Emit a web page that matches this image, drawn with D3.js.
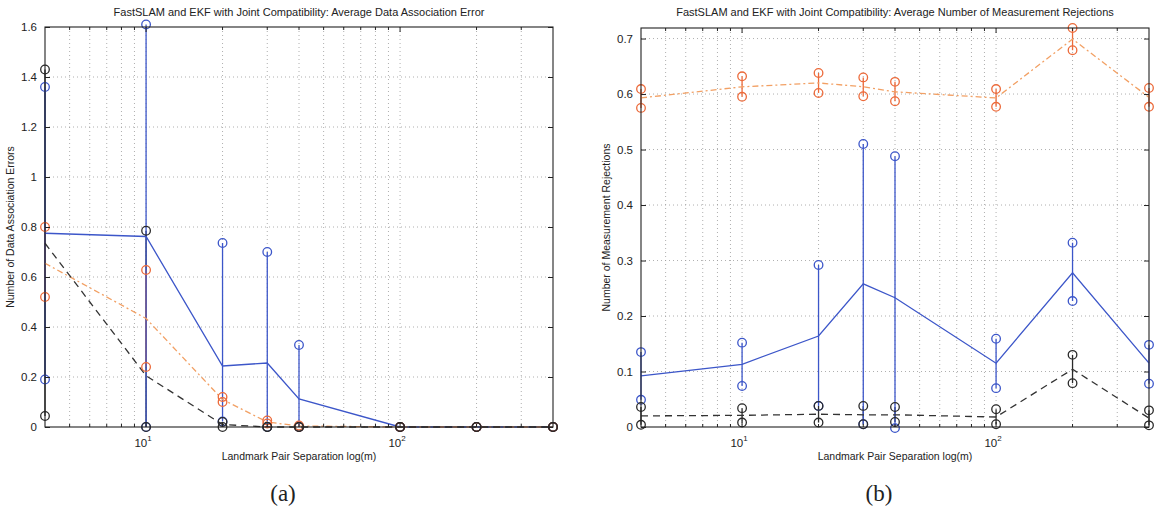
<!DOCTYPE html>
<html>
<head>
<meta charset="utf-8">
<script src="https://cdn.jsdelivr.net/npm/d3@7"></script>
<style>
  html, body { margin: 0; padding: 0; background: #fff; }
  svg { display: block; font-family: "Liberation Sans", Arial, sans-serif; }
</style>
</head>
<body>
<svg id="fig" width="1157" height="512"></svg>
<script>
// Landmark pair separation (m), shared by both panels
const separations = [4, 10, 20, 30, 40, 100, 200, 400];

// Panel (a): average data association error
const fastMeanA  = [0.775, 0.762, 0.244, 0.256, 0.112, 0, 0, 0];
const fastHighA  = [1.36, 1.61, 0.736, 0.70, 0.328, 0, 0, 0];
const fastLowA   = [0.19, 0, 0.022, 0, 0, 0, 0, 0];
const ekfMeanA   = [0.655, 0.434, 0.11, 0.02, 0.004, 0, 0, 0];
const ekfHighA   = [0.80, 0.628, 0.12, 0.026, 0.006, 0, 0, 0];
const ekfLowA    = [0.52, 0.24, 0.10, 0.014, 0, 0, 0, 0];
const jcMeanA    = [0.735, 0.205, 0.01, 0, 0, 0, 0, 0];
const jcHighA    = [1.43, 0.785, 0.02, 0, 0, 0, 0, 0];
const jcLowA     = [0.044, 0, 0, 0, 0, 0, 0, 0];
const yTicksA    = [0, 0.2, 0.4, 0.6, 0.8, 1, 1.2, 1.4, 1.6];

// Panel (b): average number of measurement rejections
const fastMeanB  = [0.092, 0.113, 0.164, 0.258, 0.233, 0.115, 0.278, 0.115];
const fastHighB  = [0.135, 0.152, 0.292, 0.51, 0.488, 0.159, 0.332, 0.148];
const fastLowB   = [0.049, 0.074, 0.038, 0.005, -0.002, 0.070, 0.227, 0.078];
const ekfMeanB   = [0.593, 0.613, 0.62, 0.613, 0.604, 0.593, 0.699, 0.594];
const ekfHighB   = [0.609, 0.632, 0.638, 0.63, 0.622, 0.609, 0.719, 0.611];
const ekfLowB    = [0.575, 0.595, 0.602, 0.596, 0.587, 0.577, 0.679, 0.577];
const jcMeanB    = [0.02, 0.021, 0.023, 0.022, 0.022, 0.018, 0.104, 0.016];
const jcHighB    = [0.036, 0.034, 0.038, 0.038, 0.036, 0.032, 0.13, 0.03];
const jcLowB     = [0.004, 0.008, 0.008, 0.005, 0.009, 0.005, 0.079, 0.003];
const yTicksB    = [0, 0.1, 0.2, 0.3, 0.4, 0.5, 0.6, 0.7];

const xTickMajor = [10, 100];
const xDomain = [4, 400];

const svg = d3.select("#fig");

const blue = "#3c56c9", orange = "#ec6a3a", orangeLine = "#f2a064", black = "#2a2a2a";

function panel(opts) {
  const { left, right, top, bottom, yMax, yTicks, series, title, yLabel, caption } = opts;
  const x = d3.scaleLog().domain(xDomain).range([left, right]);
  const y = d3.scaleLinear().domain([0, yMax]).range([bottom, top]);
  const g = svg.append("g");

  // minor + major log positions for grid and ticks
  const logTicks = [];
  for (let d = 1; d <= 100; d *= 10) {
    for (let k = 1; k <= 9; k++) {
      const v = k * d;
      if (v > xDomain[0] && v < xDomain[1]) logTicks.push(v);
    }
  }

  // dotted grid
  const grid = g.append("g").attr("stroke", "#9a9a9a").attr("stroke-width", 0.8)
    .attr("stroke-dasharray", "1,3");
  grid.selectAll("line.v").data(logTicks).join("line")
    .attr("x1", d => x(d)).attr("x2", d => x(d))
    .attr("y1", top).attr("y2", bottom);
  grid.selectAll("line.h").data(yTicks.filter(t => t > 0 && t < yMax)).join("line")
    .attr("x1", left).attr("x2", right)
    .attr("y1", d => y(d)).attr("y2", d => y(d));

  // error bars: joint-compatibility first, then EKF, then FastSLAM on top
  const errOrder = [series[2], series[1], series[0]];
  errOrder.forEach(s => {
    g.append("g").selectAll("line").data(separations).join("line")
      .attr("x1", d => x(d)).attr("x2", d => x(d))
      .attr("y1", (d, i) => y(Math.max(0, s.low[i])))
      .attr("y2", (d, i) => y(s.high[i]))
      .attr("stroke", s.color).attr("stroke-width", 1.3);
  });

  // mean lines
  const line = d3.line().x(d => x(d[0])).y(d => y(d[1]));
  series.forEach(s => {
    g.append("path")
      .attr("d", line(separations.map((d, i) => [d, s.mean[i]])))
      .attr("fill", "none").attr("stroke", s.lineColor)
      .attr("stroke-width", 1.3)
      .attr("stroke-dasharray", s.dash || null);
  });

  // circles at the ends of each error bar
  series.forEach(s => {
    const ends = [];
    separations.forEach((d, i) => { ends.push([d, s.high[i]]); ends.push([d, s.low[i]]); });
    g.append("g").selectAll("circle").data(ends).join("circle")
      .attr("cx", d => x(d[0])).attr("cy", d => y(d[1]))
      .attr("r", 4.3).attr("fill", "none")
      .attr("stroke", s.color).attr("stroke-width", 1.3);
  });

  // axes box
  g.append("rect").attr("x", left).attr("y", top)
    .attr("width", right - left).attr("height", bottom - top)
    .attr("fill", "none").attr("stroke", "#222").attr("stroke-width", 1.1);

  // y axis (left) with labels; mirrored ticks on right
  const yAxis = d3.axisLeft(y).tickValues(yTicks).tickSizeInner(-5).tickSizeOuter(0)
    .tickPadding(8).tickFormat(d => d === 0 ? "0" : d3.format("")(d));
  const ya = g.append("g").attr("transform", `translate(${left},0)`).call(yAxis);
  ya.select(".domain").remove();
  ya.selectAll("text").attr("font-size", 11.5).attr("fill", "#222")
    .attr("font-family", "Liberation Sans, Arial, sans-serif");
  ya.selectAll("line").attr("stroke", "#222");
  const yr = g.append("g").attr("transform", `translate(${right},0)`)
    .call(d3.axisRight(y).tickValues(yTicks).tickSizeInner(-5).tickSizeOuter(0).tickFormat(""));
  yr.select(".domain").remove();
  yr.selectAll("line").attr("stroke", "#222");

  // x ticks (bottom and top, inward)
  [bottom, top].forEach(yy => {
    const dir = yy === bottom ? -1 : 1;
    g.append("g").selectAll("line").data(logTicks).join("line")
      .attr("x1", d => x(d)).attr("x2", d => x(d))
      .attr("y1", yy).attr("y2", d => yy + dir * (xTickMajor.includes(d) ? 5 : 3))
      .attr("stroke", "#222").attr("stroke-width", 1);
  });

  // x tick labels as powers of ten
  const xl = g.append("g").selectAll("text").data(xTickMajor).join("text")
    .attr("x", d => x(d) - 3).attr("y", bottom + 20)
    .attr("text-anchor", "middle").attr("font-size", 11.5).attr("fill", "#222");
  xl.append("tspan").text("10");
  xl.append("tspan").attr("dy", -6).attr("font-size", 8).text(d => Math.round(Math.log10(d)));

  // titles and labels
  const cx = (left + right) / 2;
  g.append("text").attr("x", cx).attr("y", 16).attr("text-anchor", "middle")
    .attr("font-size", 11).attr("fill", "#222").text(title);
  g.append("text").attr("x", cx).attr("y", bottom + 33).attr("text-anchor", "middle")
    .attr("font-size", 10.5).attr("fill", "#222").text("Landmark Pair Separation log(m)");
  g.append("text")
    .attr("transform", `translate(${left - 31},${(top + bottom) / 2}) rotate(-90)`)
    .attr("text-anchor", "middle").attr("font-size", 10.5).attr("fill", "#222").text(yLabel);
  g.append("text").attr("x", cx - 16).attr("y", 501).attr("text-anchor", "middle")
    .attr("font-family", "Liberation Serif, DejaVu Serif, serif")
    .attr("font-size", 23).attr("fill", "#222").text(caption);
}

panel({
  left: 45, right: 553, top: 27, bottom: 427, yMax: 1.6, yTicks: yTicksA,
  title: "FastSLAM and EKF with Joint Compatibility: Average Data Association Error",
  yLabel: "Number of Data Association Errors", caption: "(a)",
  series: [
    { mean: fastMeanA, high: fastHighA, low: fastLowA, color: blue, lineColor: blue },
    { mean: ekfMeanA, high: ekfHighA, low: ekfLowA, color: orange, lineColor: orangeLine, dash: "6,3,2,3" },
    { mean: jcMeanA, high: jcHighA, low: jcLowA, color: black, lineColor: "#333", dash: "7,5" }
  ]
});

panel({
  left: 641, right: 1149, top: 28, bottom: 427, yMax: 0.719, yTicks: yTicksB,
  title: "FastSLAM and EKF with Joint Compatibility: Average Number of Measurement Rejections",
  yLabel: "Number of Measurement Rejections", caption: "(b)",
  series: [
    { mean: fastMeanB, high: fastHighB, low: fastLowB, color: blue, lineColor: blue },
    { mean: ekfMeanB, high: ekfHighB, low: ekfLowB, color: orange, lineColor: orangeLine, dash: "6,3,2,3" },
    { mean: jcMeanB, high: jcHighB, low: jcLowB, color: black, lineColor: "#333", dash: "7,5" }
  ]
});
</script>
</body>
</html>
